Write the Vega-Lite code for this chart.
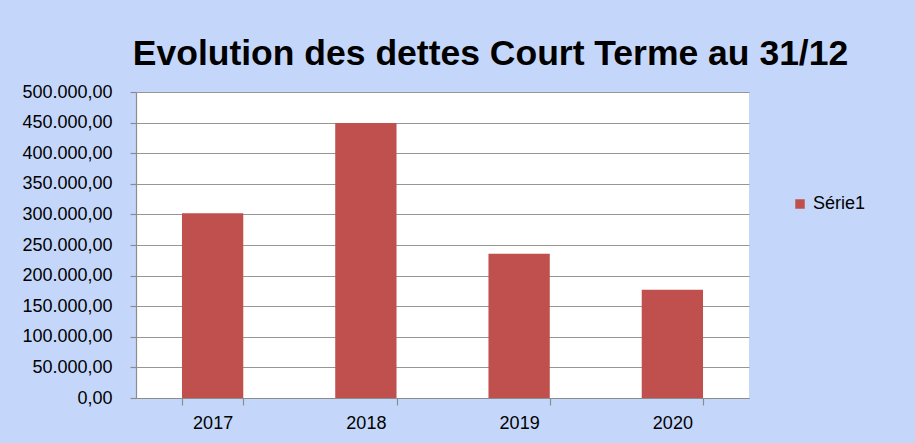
{
  "$schema": "https://vega.github.io/schema/vega-lite/v6.json",
  "autosize": "none",
  "width": 613,
  "height": 306,
  "padding": {"left": 136, "top": 92, "right": 166, "bottom": 45},
  "background": "#c4d7fb",
  "config": {
    "font": "Liberation Sans",
    "locale": {"number": {"decimal": ",", "thousands": ".", "grouping": [3], "currency": ["", " €"]}},
    "view": {"stroke": null, "fill": "#ffffff"},
    "axis": {
      "labelFont": "Liberation Sans",
      "labelFontSize": 18,
      "labelColor": "#000000",
      "domainColor": "#8c8c8c",
      "tickColor": "#8c8c8c",
      "gridColor": "#969696",
      "gridWidth": 1.2,
      "domainWidth": 1.2,
      "tickWidth": 1.2,
      "title": null
    }
  },
  "title": {
    "text": "Evolution des dettes Court Terme  au 31/12",
    "font": "Liberation Sans",
    "fontSize": 35.5,
    "fontWeight": "bold",
    "color": "#000000",
    "anchor": "middle",
    "baseline": "bottom",
    "offset": 18,
    "dx": 48,
    "dy": 42
  },
  "data": {
    "values": [
      {"annee": "2017", "montant": 302000, "serie": "Série1"},
      {"annee": "2018", "montant": 449300, "serie": "Série1"},
      {"annee": "2019", "montant": 235800, "serie": "Série1"},
      {"annee": "2020", "montant": 177000, "serie": "Série1"}
    ]
  },
  "mark": {"type": "bar"},
  "encoding": {
    "x": {
      "field": "annee",
      "type": "nominal",
      "scale": {"paddingInner": 0.6, "paddingOuter": 0.3},
      "axis": {
        "labelAngle": 0,
        "tickBand": "extent",
        "tickSize": 7,
        "labelPadding": 9,
        "grid": false
      }
    },
    "y": {
      "field": "montant",
      "type": "quantitative",
      "scale": {"domain": [0, 500000], "nice": false},
      "axis": {
        "values": [0, 50000, 100000, 150000, 200000, 250000, 300000, 350000, 400000, 450000, 500000],
        "format": ",.2f",
        "tickSize": 6,
        "labelPadding": 18,
        "grid": true
      }
    },
    "color": {
      "field": "serie",
      "type": "nominal",
      "scale": {"range": ["#c0504d"]},
      "legend": {
        "title": null,
        "orient": "none",
        "legendX": 655,
        "legendY": 103,
        "symbolType": "square",
        "symbolSize": 90,
        "symbolStrokeWidth": 0,
        "labelFont": "Liberation Sans",
        "labelFontSize": 18,
        "labelColor": "#000000",
        "labelOffset": 4,
        "padding": 0
      }
    }
  }
}
